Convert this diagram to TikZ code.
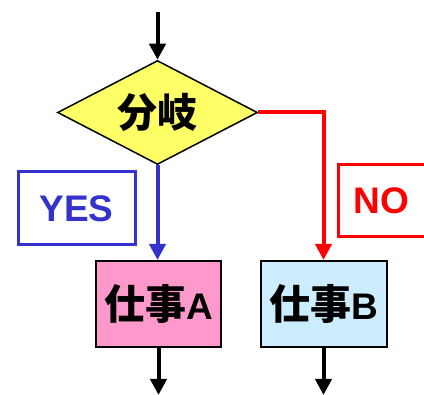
\documentclass[tikz,border=0pt]{standalone}
\usepackage{fontspec}
\newfontfamily\cjk{Noto Sans CJK JP}
\newfontfamily\lat{Liberation Sans}
\usetikzlibrary{shapes.geometric,arrows.meta}
\definecolor{dyellow}{HTML}{FFFF66}
\definecolor{dpink}{HTML}{FF99CC}
\definecolor{dlblue}{HTML}{CCECFF}
\definecolor{dblue}{HTML}{3333CC}
\definecolor{dred}{HTML}{FF0000}
\newcommand{\latbig}[1]{{\lat\bfseries\fontsize{37}{37}\selectfont #1}}
\tikzset{
  x=1pt,y=1pt,
  jobbox/.style={draw=black,line width=2pt,inner sep=0pt,font=\cjk\bfseries\fontsize{41}{41}\selectfont},
  labbox/.style={line width=3pt,inner sep=0pt,fill=white,font=\lat\bfseries\fontsize{37}{37}\selectfont},
  flowarrow/.style={line width=4pt,-{Triangle[width=16pt,length=16pt]}},
}
\begin{document}
\begin{tikzpicture}
\useasboundingbox (0,0) rectangle (424,395);
\clip (0,0) rectangle (424,395);
\node[diamond,aspect=2,draw=black,line width=1.5pt,fill=dyellow,minimum width=200pt,minimum height=104pt,inner sep=0pt,font=\cjk\bfseries\fontsize{40}{40}\selectfont] (d) at (157.5,282.5) {分岐};
\node[jobbox,fill=dpink,minimum width=125pt,minimum height=86pt] (a) at (158.5,91) {仕事\latbig{A}};
\node[jobbox,fill=dlblue,minimum width=126pt,minimum height=86pt] (b) at (323.5,91) {仕事\latbig{B}};
\node[labbox,draw=dblue,text=dblue,minimum width=117pt,minimum height=73pt] (yes) at (76.5,186.5) {YES};
\node[labbox,draw=dred,text=dred,minimum width=100pt,minimum height=72pt,anchor=west] (no) at (337,194) {\hspace*{-14pt}NO};
\coordinate (top) at (157.5,383);
\coordinate (ea) at (158.5,0);
\coordinate (eb) at (323.5,0);
\draw[flowarrow,black] (top) -- (d.north);
\draw[flowarrow,dblue] (d.south) -- (d.south |- a.north);
\draw[flowarrow,dred] (d.east) -| (b.north);
\draw[flowarrow,black] (a.south) -- (ea);
\draw[flowarrow,black] (b.south) -- (eb);
\end{tikzpicture}
\end{document}
